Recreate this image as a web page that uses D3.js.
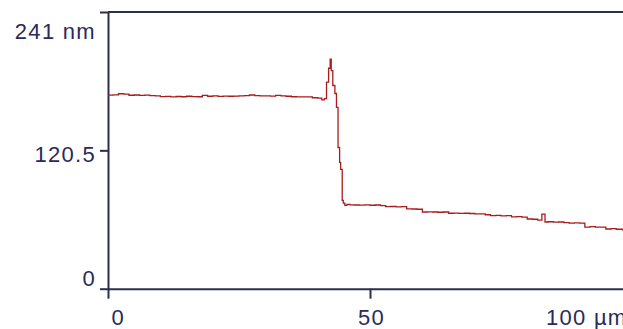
<!DOCTYPE html>
<html>
<head>
<meta charset="utf-8">
<script src="https://cdn.jsdelivr.net/npm/d3@7"></script>
<style>
  body { margin: 0; background: #fff; }
  svg { display: block; }
</style>
</head>
<body>
<div id="profile"></div>
<script>
// Height profile: position (µm) and height (nm)
const profileX = [
    0, 1, 2, 3, 4, 5, 6, 7, 8, 9, 10, 11, 12, 13, 14, 15, 16, 17, 18, 19,
    20, 21, 22, 23, 24, 25, 26, 27, 28, 29, 30, 31, 32, 33, 34, 35, 36, 37, 38, 39,
    40, 40.8, 41.3, 41.7, 42.1, 42.4, 42.6, 42.9, 43.3, 43.6, 43.9, 44.2, 44.4, 44.7, 44.9,
    45.2, 45.6, 46.2, 47, 48, 49, 50, 51, 52, 53, 54, 55, 56, 57, 58, 59, 60, 61, 62, 63, 64,
    65, 66, 67, 68, 69, 70, 71, 72, 73, 74, 75, 76, 77, 78, 79, 80, 81, 82, 82.8, 83.4,
    84, 85, 86, 87, 88, 89, 90, 91, 92, 93, 94, 95, 96, 97, 98.3
];
const profileZ = [
    168.6, 168.9, 169.8, 169.4, 168.5, 168.7, 168.4, 168.6, 168.2, 167.9, 167.3, 167.5, 167.1, 167.4, 167.2, 167.6, 167.3, 167.2, 168.3, 167.6,
    167.9, 167.5, 167.7, 167.6, 167.8, 167.9, 168.2, 168.7, 168.1, 167.9, 168.0, 167.7, 168.4, 167.9, 167.6, 167.2, 167.0, 167.1, 167.0, 166.3,
    166.0, 164.4, 165.5, 180, 192, 200, 190, 177, 170, 158, 123, 110, 104, 77, 74.5,
    72.6, 73.5, 73.0, 72.9, 72.8, 73.0, 72.7, 72.9, 72.4, 71.4, 71.6, 71.3, 71.4, 69.6, 69.4, 69.2, 66.8, 67.0, 66.8, 66.6, 66.8,
    65.7, 65.9, 65.6, 65.7, 65.5, 65.2, 65.1, 64.4, 63.6, 63.8, 63.5, 63.6, 62.5, 62.7, 62.3, 60.7, 60.5, 59.8, 65.0, 58.1,
    58.3, 58.0, 58.1, 57.6, 57.2, 57.4, 57.2, 53.7, 54.0, 53.6, 53.7, 52.0, 52.3, 51.8, 50.3
];

const xTicks = [0, 50, 100];
const xTickLabels = ['0', '50', '100 µm'];
const yTicks = [0, 120.5, 241];
const yTickLabels = ['0', '120.5', '241 nm'];

const width = 623, height = 329;
const axisColor = '#2e2e4e', textColor = '#2a2a5c';

const svg = d3.select('#profile').append('svg')
    .attr('width', width).attr('height', height);

const x = d3.scaleLinear([0, 100], [108, 632]);
const y = d3.scaleLinear([0, 241], [288.7, 12]);

// top frame line
svg.append('line')
    .attr('x1', x(0)).attr('x2', x(100))
    .attr('y1', y(241)).attr('y2', y(241))
    .attr('stroke', axisColor).attr('stroke-width', 2);

const axisX = svg.append('g')
    .attr('transform', `translate(0,${y(0)})`)
    .call(d3.axisBottom(x).tickValues(xTicks).tickSize(10).tickSizeOuter(0)
        .tickFormat((d, i) => xTickLabels[i]));

const axisY = svg.append('g')
    .attr('transform', `translate(${x(0)},0)`)
    .call(d3.axisLeft(y).tickValues(yTicks).tickSize(8).tickSizeOuter(0)
        .tickFormat((d, i) => yTickLabels[i]));

[axisX, axisY].forEach(g => {
    g.select('.domain').attr('stroke', axisColor).attr('stroke-width', 2);
    g.selectAll('.tick line').attr('stroke', axisColor).attr('stroke-width', 2);
    g.selectAll('.tick text')
        .attr('fill', textColor)
        .style('font-family', '"Liberation Sans", Arial, sans-serif')
        .style('font-size', '22px')
        .style('letter-spacing', '1.3px');
});

// first label starts at the tick, last one ends there, middle one is centred
axisX.selectAll('.tick text')
    .attr('y', 0).attr('dy', 36)
    .attr('text-anchor', (d, i) => i === 0 ? 'start' : i === xTicks.length - 1 ? 'end' : 'middle')
    .attr('dx', (d, i) => i === 0 ? 3 : i === xTicks.length - 1 ? -5 : 1);

axisY.selectAll('.tick text')
    .attr('x', -12).attr('dy', (d, i) => i === 0 ? -3 : i === yTicks.length - 1 ? 26 : 11)
    .attr('text-anchor', 'end');

const line = d3.line()
    .x((d, i) => x(profileX[i]))
    .y(d => y(d))
    .curve(d3.curveStepAfter);

svg.append('path')
    .datum(profileZ)
    .attr('fill', 'none')
    .attr('stroke', '#a81c1c')
    .attr('stroke-width', 1.3)
    .attr('d', line);
</script>
</body>
</html>
